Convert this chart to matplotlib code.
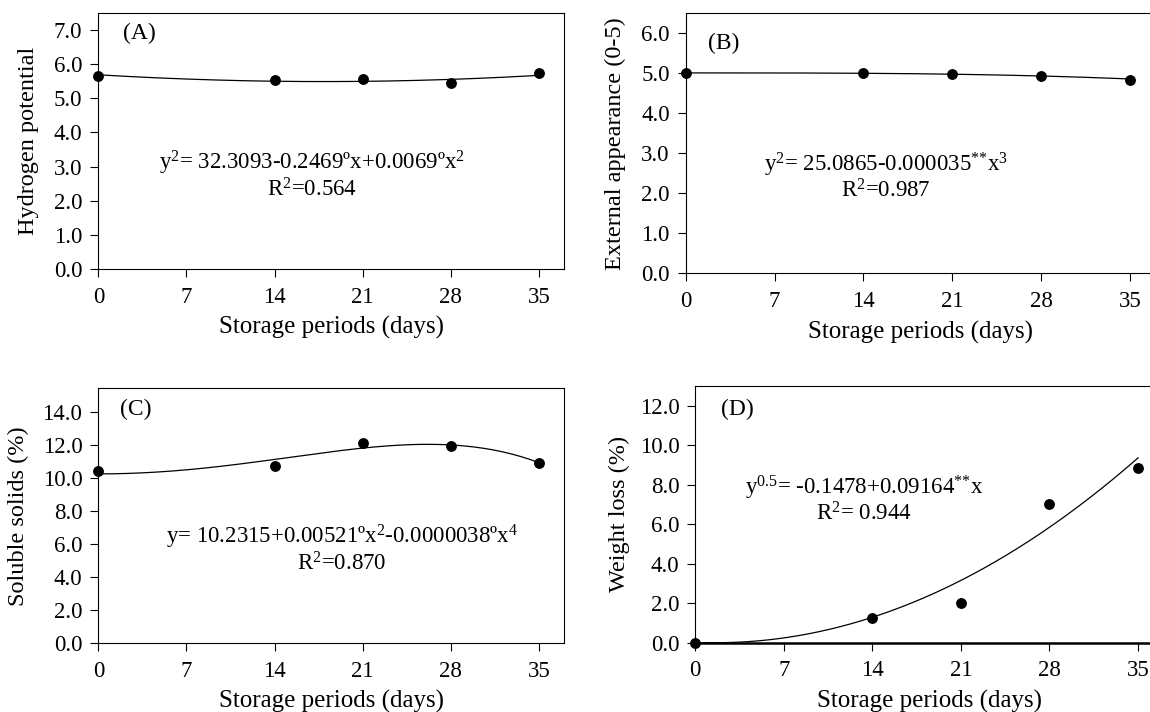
import numpy as np
import matplotlib
matplotlib.use("Agg")
import matplotlib.pyplot as plt

plt.rcParams["font.family"] = ["Liberation Serif", "DejaVu Serif"]
plt.rcParams["mathtext.fontset"] = "custom"
plt.rcParams["mathtext.rm"] = "Liberation Serif"
plt.rcParams["mathtext.default"] = "regular"

# storage periods (days)
days = [0, 14, 21, 28, 35]

ph = [5.66, 5.52, 5.55, 5.45, 5.74]
appearance = [5.00, 5.00, 4.97, 4.93, 4.84]
solids = [10.39, 10.71, 12.08, 11.94, 10.91]
weight_loss = [0.0, 1.26, 2.02, 7.05, 8.85]

# regression coefficients printed on the panels
coef_ph = [32.3093, -0.2469, 0.0069]          # y^2 = a + b x + c x^2
coef_app = [25.0865, -0.000035]               # y^2 = a + b x^3
coef_sol = [10.2315, 0.00521, -0.0000038]     # y = a + b x^2 + c x^4
coef_wl = [-0.1478, 0.09164]                  # y^0.5 = a + b x

x_ticks = [0, 7, 14, 21, 28, 35]

TICK_FS = 16.5
LABEL_FS = 17.5
EQ_FS = 16.5
TAG_FS = 17

xs = np.linspace(0, 35, 300)


def fit_ph(x):
    return np.sqrt(coef_ph[0] + coef_ph[1] * x + coef_ph[2] * x ** 2)


def fit_app(x):
    return np.sqrt(coef_app[0] + coef_app[1] * x ** 3)


def fit_sol(x):
    return coef_sol[0] + coef_sol[1] * x ** 2 + coef_sol[2] * x ** 4


def fit_wl(x):
    return np.clip(coef_wl[0] + coef_wl[1] * x, 0, None) ** 2


def style_axis(ax, ymax, ystep):
    ax.set_xlim(0, 37)
    ax.set_ylim(0, ymax)
    ax.set_xticks(x_ticks)
    ax.set_yticks(np.arange(0, ymax - 0.01, ystep))
    ax.yaxis.set_major_formatter(matplotlib.ticker.FormatStrFormatter("%.1f"))
    ax.tick_params(direction="out", length=5.5, width=0.8, labelsize=TICK_FS,
                   top=False, right=False)
    ax.tick_params(axis="y", pad=6)
    ax.tick_params(axis="x", pad=7)
    for s in ax.spines.values():
        s.set_linewidth(0.8)


panels = [
    # rect, y data, fit, ymax, ystep, ylabel, tag, tag pos, eq + r2, eq pos, ylabel x
    ([0.0855, 0.6218, 0.405, 0.3604], ph, fit_ph, 7.5, 1.0, "Hydrogen potential",
     "(A)", (0.053, 0.92),
     "y$^2$= 32.3093-0.2469ºx+0.0069ºx$^2$\nR$^2$=0.564", (0.458, 0.366), -0.128),
    ([0.5963, 0.6162, 0.4083, 0.3652], appearance, fit_app, 6.5, 1.0, "External appearance (0-5)",
     "(B)", (0.047, 0.885),
     "y$^2$= 25.0865-0.000035$^{{*}{*}}$x$^3$\nR$^2$=0.987", (0.426, 0.372), -0.127),
    ([0.0855, 0.0965, 0.405, 0.3581], solids, fit_sol, 15.4, 2.0, "Soluble solids (%)",
     "(C)", (0.047, 0.918),
     "y= 10.2315+0.00521ºx$^2$-0.0000038ºx$^4$\nR$^2$=0.870", (0.523, 0.37), -0.149),
    ([0.6046, 0.0973, 0.407, 0.3605], weight_loss, fit_wl, 13.0, 2.0, "Weight loss (%)",
     "(D)", (0.055, 0.909),
     "y$^{0.5}$= -0.1478+0.09164$^{{*}{*}}$x\nR$^2$= 0.944", (0.36, 0.558), -0.14),
]

fig = plt.figure(figsize=(11.5, 7.12), dpi=100)

for (rect, yvals, fit, ymax, ystep, ylabel, tag, tag_pos, eq, eq_pos, ylab_x) in panels:
    ax = fig.add_axes(rect)
    ax.plot(xs, fit(xs), color="black", linewidth=0.9, zorder=2)
    ax.plot(days, yvals, "o", color="black", markersize=6.8, clip_on=False, zorder=3)
    style_axis(ax, ymax, ystep)

    ax.set_xlabel("Storage periods (days)", fontsize=LABEL_FS + 0.5)
    ax.xaxis.set_label_coords(0.5, -0.182)
    ax.xaxis.label.set_va("top")
    ax.set_ylabel(ylabel, fontsize=LABEL_FS)
    ax.yaxis.set_label_coords(ylab_x, 0.5)

    ax.text(tag_pos[0], tag_pos[1], tag, transform=ax.transAxes,
            ha="left", va="center", fontsize=TAG_FS)
    ax.text(eq_pos[0], eq_pos[1], eq, transform=ax.transAxes,
            ha="center", va="center", multialignment="center",
            linespacing=1.05, fontsize=EQ_FS)

    if tag == "(D)":
        ax.spines["bottom"].set_linewidth(1.8)

fig.savefig("out.png", dpi=100)
